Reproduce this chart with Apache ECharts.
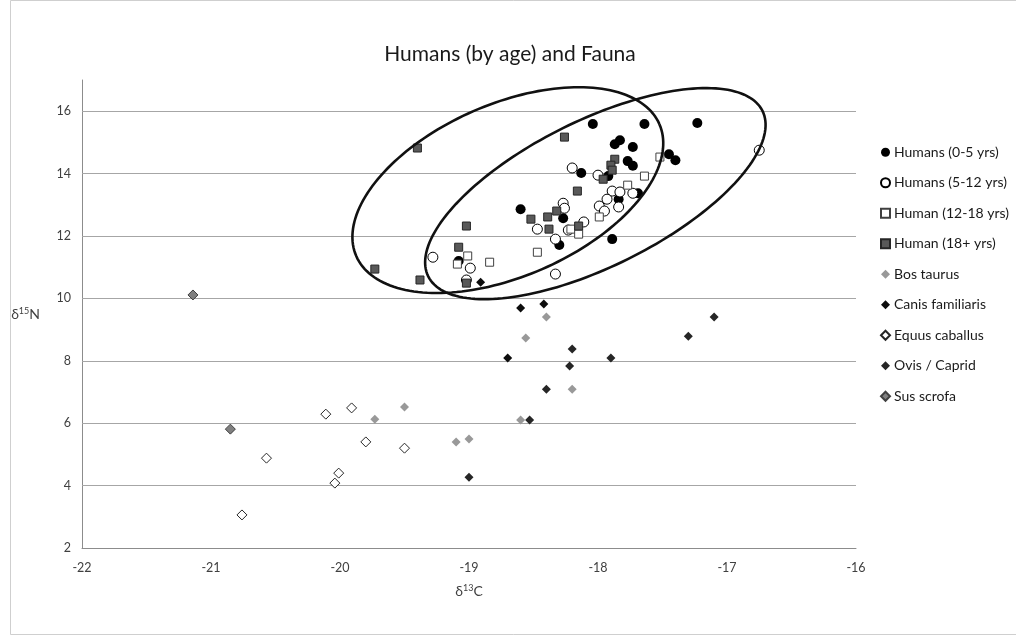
<!DOCTYPE html>
<html>
<head>
<meta charset="utf-8">
<script src="https://cdn.jsdelivr.net/npm/echarts@6/dist/echarts.min.js"></script>
<style>
html,body{margin:0;padding:0;background:#fff;}
#chart{width:1016px;height:635px;}
</style>
</head>
<body>
<div id="chart"></div>
<script>
// ---- Data (δ13C, δ15N) ----
var humans0to5 = [
  [-18.04,15.59],[-17.64,15.59],[-17.23,15.62],[-17.87,14.94],[-17.83,15.07],
  [-17.73,14.85],[-17.77,14.40],[-17.73,14.25],[-17.45,14.62],[-17.40,14.43],
  [-17.92,13.92],[-18.13,14.02],[-17.69,13.37],[-18.27,12.57],[-18.30,11.71],
  [-17.89,11.90],[-18.60,12.86],[-19.08,11.20],[-17.84,13.18]
];
var humans5to12 = [
  [-18.20,14.18],[-18.00,13.95],[-17.89,13.44],[-17.83,13.41],[-17.73,13.37],
  [-17.93,13.18],[-17.99,12.96],[-17.95,12.80],[-17.84,12.93],[-18.27,13.05],
  [-18.26,12.89],[-18.11,12.45],[-18.23,12.19],[-18.47,12.22],[-18.33,11.90],
  [-18.33,10.78],[-16.75,14.75],[-19.28,11.32],[-18.99,10.97],[-19.02,10.59]
];
var humans12to18 = [
  [-17.52,14.53],[-17.64,13.92],[-17.77,13.63],[-17.99,12.61],[-18.21,12.22],
  [-18.15,12.06],[-18.47,11.48],[-19.01,11.36],[-19.09,11.10],[-18.84,11.16]
];
var humans18plus = [
  [-19.40,14.82],[-18.52,12.54],[-19.02,12.32],[-19.08,11.64],[-19.73,10.94],
  [-19.38,10.59],[-19.02,10.49],[-18.26,15.17],[-17.87,14.46],[-17.90,14.27],
  [-17.89,14.11],[-17.96,13.82],[-18.16,13.44],[-18.32,12.80],[-18.39,12.61],
  [-18.38,12.22],[-18.15,12.32]
];
var bosTaurus = [
  [-18.40,9.40],[-18.56,8.73],[-18.20,7.09],[-18.60,6.10],[-19.10,5.40],
  [-19.00,5.49],[-19.50,6.52],[-19.73,6.13]
];
var canisFamiliaris = [
  [-18.60,9.69],[-18.42,9.82],[-18.70,8.09],[-18.91,10.52]
];
var equusCaballus = [
  [-20.11,6.29],[-19.91,6.49],[-19.80,5.40],[-19.50,5.20],[-20.57,4.88],
  [-20.01,4.40],[-20.04,4.08],[-20.76,3.06]
];
var ovisCaprid = [
  [-18.20,8.38],[-17.90,8.09],[-18.22,7.83],[-18.40,7.09],[-18.53,6.10],
  [-19.00,4.27],[-17.30,8.79],[-17.10,9.40]
];
var susScrofa = [
  [-21.14,10.11],[-20.85,5.81]
];
// ellipses: major-axis end 1 (x,y), end 2 (x,y), minor/major ratio
var ellipses = [
  [-17.524,15.585,-19.874,11.356,0.521],
  [-16.725,16.01,-19.316,10.706,0.392]
];
var seriesNames = ['Humans (0-5 yrs)','Humans (5-12 yrs)','Human (12-18 yrs)','Human (18+ yrs)',
  'Bos taurus','Canis familiaris','Equus caballus','Ovis / Caprid','Sus scrofa'];
var yGridValues = [4,6,8,10,12,14,16];
var xTicks = {min:-22, max:-16, step:1};
var yTicks = {min:2, max:17, step:2};

var FONT = 'Lato, "Open Sans", sans-serif';
var chart = echarts.init(document.getElementById('chart'), null, {renderer:'canvas'});

function sc(name, data, symbol, size, fill, border, bw){
  return {
    name:name, type:'scatter', data:data, symbol:symbol, symbolSize:size, z:3,
    itemStyle:{color:fill, borderColor:border, borderWidth:bw, opacity:1},
    emphasis:{disabled:true}
  };
}

var option = {
  backgroundColor:'#ffffff',
  animation:false,
  title:{
    text:'Humans (by age) and Fauna', left:505, top:39, textAlign:'center',
    textStyle:{fontFamily:FONT, fontSize:21, fontWeight:'normal', color:'#1a1a1a'}
  },
  graphic:[{
    type:'rect', left:8, top:-2, shape:{width:1012, height:634},
    style:{fill:'none', stroke:'#cfcfcf', lineWidth:1}, silent:true
  }],
  grid:{left:82, right:160, top:80, bottom:87, containLabel:false},
  legend:{
    orient:'vertical', left:875, top:139, itemWidth:9, itemHeight:9, itemGap:14,
    data:seriesNames,
    textStyle:{fontFamily:FONT, fontSize:14, lineHeight:16.5, color:'#1a1a1a', padding:[0,0,0,-1]}
  },
  xAxis:{
    type:'value', min:xTicks.min, max:xTicks.max, interval:xTicks.step,
    name:'{a|δ}{s|13}{a|C}', nameLocation:'middle', nameGap:36,
    nameTextStyle:{rich:{a:{fontFamily:FONT,fontSize:14,color:'#404040'},s:{fontFamily:FONT,fontSize:9,color:'#404040',verticalAlign:'top',padding:[0,0,6,0]}}},
    axisLine:{show:true, onZero:false, lineStyle:{color:'#8c8c8c', width:1}},
    axisTick:{show:false},
    axisLabel:{fontFamily:FONT, fontSize:12.5, color:'#404040', margin:13},
    splitLine:{show:false}
  },
  yAxis:{
    type:'value', min:yTicks.min, max:yTicks.max, interval:yTicks.step,
    name:'{a|δ}{s|15}{a|N}', nameLocation:'middle', nameGap:42, nameRotate:0,
    nameTextStyle:{rich:{a:{fontFamily:FONT,fontSize:14,color:'#404040'},s:{fontFamily:FONT,fontSize:9,color:'#404040',verticalAlign:'top',padding:[0,0,6,0]}}},
    axisLine:{show:true, onZero:false, lineStyle:{color:'#8c8c8c', width:1}},
    axisTick:{show:false},
    axisLabel:{fontFamily:FONT, fontSize:12.5, color:'#404040', margin:11, showMaxLabel:false},
    splitLine:{show:false}
  },
  series:[
    {
      name:'_grid', type:'scatter', data:[], z:1, silent:true,
      markLine:{
        silent:true, symbol:['none','none'], z:1, animation:false,
        label:{show:false},
        lineStyle:{color:'#a6a6a6', type:'solid', width:1},
        data:yGridValues.map(function(v){return {yAxis:v};})
      }
    },
    sc(seriesNames[0], humans0to5, 'circle', 10, '#000000', '#000000', 0),
    sc(seriesNames[1], humans5to12, 'circle', 10, '#ffffff', '#000000', 1),
    sc(seriesNames[2], humans12to18, 'rect', 8, '#ffffff', '#404040', 1),
    sc(seriesNames[3], humans18plus, 'rect', 8, '#595959', '#262626', 1),
    sc(seriesNames[4], bosTaurus, 'diamond', 9, '#999999', '#999999', 0),
    sc(seriesNames[5], canisFamiliaris, 'diamond', 9, '#0d0d0d', '#0d0d0d', 0),
    sc(seriesNames[6], equusCaballus, 'diamond', 10, '#ffffff', '#262626', 1),
    sc(seriesNames[7], ovisCaprid, 'diamond', 9, '#262626', '#262626', 0),
    sc(seriesNames[8], susScrofa, 'diamond', 10, '#808080', '#404040', 1),
    {
      name:'_ellipses', type:'custom', data:ellipses, z:4, silent:true,
      encode:{x:[0,2], y:[1,3]},
      renderItem:function(params, api){
        var p1 = api.coord([api.value(0), api.value(1)]);
        var p2 = api.coord([api.value(2), api.value(3)]);
        var ratio = api.value(4);
        var cx = (p1[0]+p2[0])/2, cy = (p1[1]+p2[1])/2;
        var dx = p1[0]-cx, dy = p1[1]-cy;
        var a = Math.sqrt(dx*dx+dy*dy), b = a*ratio;
        var ang = Math.atan2(dy, dx);
        var ca = Math.cos(ang), sa = Math.sin(ang);
        var pts = [];
        for (var i=0;i<=180;i++){
          var t = i/180*2*Math.PI;
          var ex = a*Math.cos(t), ey = b*Math.sin(t);
          pts.push([cx + ex*ca - ey*sa, cy + ex*sa + ey*ca]);
        }
        return {type:'polyline', shape:{points:pts}, style:{fill:null, stroke:'#111111', lineWidth:2.6}};
      }
    }
  ]
};
chart.setOption(option);
</script>
</body>
</html>
